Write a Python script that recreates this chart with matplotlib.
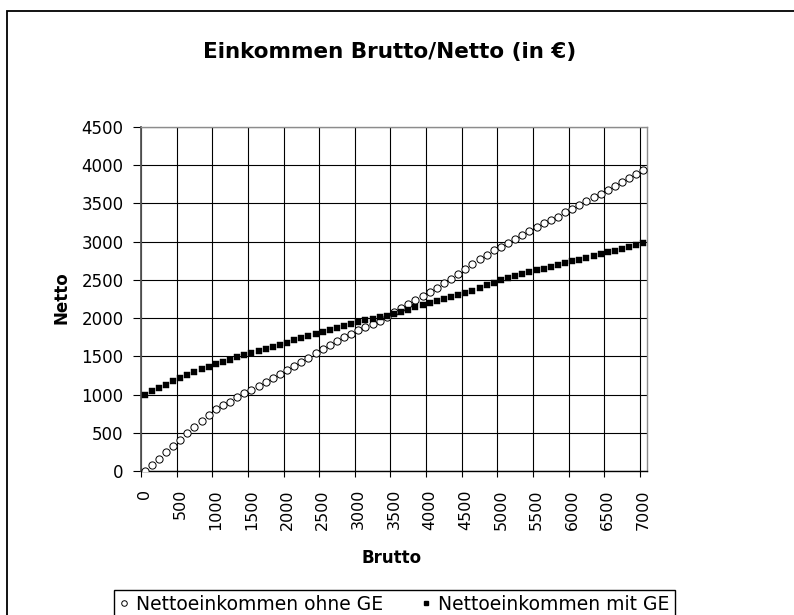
import matplotlib
matplotlib.use('Agg')
import matplotlib.pyplot as plt
import numpy as np
from matplotlib.patches import Rectangle
from matplotlib.lines import Line2D

# ---------------- data ----------------
brutto = list(range(0, 7001, 100))
netto_ohne_ge = [
    0, 78, 161, 245, 326, 409, 491, 572, 655, 737,
    815, 862, 908, 962, 1015, 1066, 1116, 1167, 1219, 1268,
    1319, 1373, 1427, 1483, 1540, 1591, 1645, 1697, 1748, 1793,
    1838, 1881, 1924, 1968, 2020, 2074, 2126, 2180, 2236, 2290,
    2345, 2400, 2455, 2515, 2578, 2641, 2706, 2771, 2823, 2887,
    2935, 2987, 3039, 3087, 3139, 3186, 3238, 3286, 3329, 3385,
    3433, 3485, 3532, 3580, 3628, 3671, 3723, 3775, 3831, 3883,
    3931,
]
netto_mit_ge = [
    1000, 1040, 1085, 1128, 1172, 1213, 1255, 1297, 1335, 1365,
    1395, 1425, 1457, 1487, 1515, 1545, 1570, 1597, 1625, 1652,
    1680, 1708, 1734, 1762, 1789, 1817, 1845, 1871, 1898, 1925,
    1952, 1972, 1990, 2008, 2027, 2050, 2080, 2110, 2140, 2165,
    2195, 2222, 2250, 2278, 2305, 2332, 2360, 2395, 2430, 2460,
    2495, 2525, 2550, 2576, 2598, 2623, 2646, 2670, 2694, 2719,
    2741, 2766, 2791, 2814, 2836, 2861, 2884, 2909, 2931, 2953,
    2977,
]
series_names = ["Nettoeinkommen ohne GE", "Nettoeinkommen mit GE"]
title = "Einkommen Brutto/Netto (in €)"
x_label = "Brutto"
y_label = "Netto"
x_tick_values = list(range(0, 7001, 500))
x_tick_labels = [str(v) for v in x_tick_values]
y_tick_values = list(range(0, 4501, 500))

# ---------------- figure ----------------
plt.rcParams['font.family'] = ['DejaVu Sans']
W, H = 794, 615
fig = plt.figure(figsize=(W / 100, H / 100), dpi=100)
fig.patch.set_facecolor('white')

# outer chart frame (extends past right/bottom edge)
fig.add_artist(Rectangle((7 / W, -0.2), 1.5, 1 - 11 / H + 0.2,
                         transform=fig.transFigure, fill=False,
                         edgecolor='black', linewidth=1.3, clip_on=False))

left, right, top, bottom = 141, 647, 127, 471
ax = fig.add_axes([left / W, 1 - bottom / H, (right - left) / W, (bottom - top) / H])
ax.set_xlim(-50, 7050)
ax.set_ylim(0, 4500)

ax.plot(brutto, netto_ohne_ge, linestyle='none', marker='o', markersize=5.2,
        markerfacecolor='white', markeredgecolor='black', markeredgewidth=0.7, zorder=3)
ax.plot(brutto, netto_mit_ge, linestyle='none', marker='s', markersize=4.6,
        markerfacecolor='black', markeredgecolor='black', markeredgewidth=0.3, zorder=4)

# y axis
ax.set_yticks(y_tick_values)
ax.set_yticklabels([str(v) for v in y_tick_values], fontsize=12)
ax.tick_params(axis='y', direction='out', length=5.5, width=0.8, pad=7, color='black')

# x axis: ticks/grid between category groups, labels at category centres
grid_x = [v - 50 for v in x_tick_values]
ax.set_xticks(grid_x)
ax.set_xticklabels([])
ax.tick_params(axis='x', which='major', direction='out', length=4.5, width=0.8, color='black')
ax.set_xticks(x_tick_values, minor=True)
ax.set_xticklabels(x_tick_labels, minor=True, rotation=90, fontsize=11.5)
ax.tick_params(axis='x', which='minor', length=0, pad=13)

ax.grid(True, which='major', color='black', linewidth=0.8, zorder=0)
ax.set_axisbelow(True)
for s in ['top', 'right']:
    ax.spines[s].set_color('#8c8c8c')
    ax.spines[s].set_linewidth(1.0)
ax.spines['left'].set_color('#555555')
ax.spines['left'].set_linewidth(1.3)
ax.spines['bottom'].set_color('black')
ax.spines['bottom'].set_linewidth(1.0)

# texts
fig.text(390 / W, 1 - 52 / H, title, ha='center', va='center', fontsize=15.5, fontweight='bold')
fig.text(392 / W, 1 - 558 / H, x_label, ha='center', va='center', fontsize=12, fontweight='bold')
fig.text(62 / W, 1 - 298 / H, y_label, ha='center', va='center', rotation=90,
         fontsize=12, fontweight='bold')

# legend
handles = [
    Line2D([], [], linestyle='none', marker='o', markersize=4, markerfacecolor='white',
           markeredgecolor='black', markeredgewidth=0.7),
    Line2D([], [], linestyle='none', marker='s', markersize=3.5, markerfacecolor='black',
           markeredgecolor='black'),
]
leg = fig.legend(handles, series_names, loc='upper center', bbox_to_anchor=(394 / W, 1 - 590 / H),
                 ncol=2, frameon=True, fancybox=False, edgecolor='black', framealpha=1,
                 fontsize=13.5, borderpad=0.25, handlelength=0.6, handletextpad=0.35,
                 columnspacing=2.0, borderaxespad=0)
leg.get_frame().set_linewidth(1.0)

fig.savefig('out.png', dpi=100)
